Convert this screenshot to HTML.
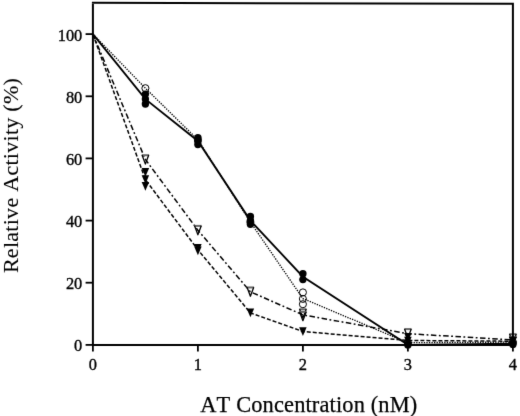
<!DOCTYPE html>
<html><head><meta charset="utf-8"><style>
html,body{margin:0;padding:0;background:#fff;width:520px;height:416px;overflow:hidden;font-family:"Liberation Serif",serif;}
svg{display:block;} text{font-kerning:none;}
</style></head><body>
<svg width="520" height="416" viewBox="0 0 520 416">
<defs><filter id="soft" filterUnits="userSpaceOnUse" x="0" y="0" width="520" height="416" color-interpolation-filters="sRGB"><feConvolveMatrix order="3" kernelMatrix="1 10 1 10 100 10 1 10 1" divisor="144" edgeMode="duplicate"/></filter></defs>
<g filter="url(#soft)">
<rect width="520" height="416" fill="#fff"/>
<polyline points="92.9,34.1 145.4,179.6 197.9,249.8 250.4,312.9 302.9,331.5 407.9,340.5 512.9,341.2" fill="none" stroke="#000" stroke-width="1.5" stroke-dasharray="4,2"/>
<polyline points="92.9,34.1 145.4,159.5 197.9,230.2 250.4,291.8 302.9,314.9 407.9,333.7 512.9,339.9" fill="none" stroke="#000" stroke-width="1.5" stroke-dasharray="5.5,2.5,1.8,2.5"/>
<polyline points="92.9,34.1 145.4,88.2 197.9,139.8 250.4,222.1 302.9,298.6 407.9,342.7 512.9,342.1" fill="none" stroke="#000" stroke-width="1.35" stroke-dasharray="1.3,1.25"/>
<polyline points="92.9,34.1 145.4,99.1 197.9,141.0 250.4,220.6 302.9,276.7 407.9,344.9 512.9,343.7" fill="none" stroke="#000" stroke-width="1.85"/>
<path d="M141.75,155.21 L149.05,155.21" stroke="#666" stroke-width="2.0"/><path d="M142.05,155.01 L145.40,164.01 L148.75,155.01" fill="none" stroke="#000" stroke-width="1.3" stroke-linejoin="round"/>
<path d="M141.65,168.01 L149.15,168.01 L145.40,176.81 Z" fill="#000"/>
<path d="M141.65,175.15 L149.15,175.15 L145.40,183.95 Z" fill="#000"/>
<path d="M141.65,181.99 L149.15,181.99 L145.40,190.79 Z" fill="#000"/>
<circle cx="145.4" cy="88.2" r="3.55" fill="none" stroke="#000" stroke-width="1.0"/>
<circle cx="145.4" cy="94.1" r="3.7" fill="#000"/>
<circle cx="145.4" cy="99.1" r="3.7" fill="#000"/>
<circle cx="145.4" cy="104.0" r="3.7" fill="#000"/>
<path d="M194.25,225.91 L201.55,225.91" stroke="#666" stroke-width="2.0"/><path d="M194.55,225.71 L197.90,234.71 L201.25,225.71" fill="none" stroke="#000" stroke-width="1.3" stroke-linejoin="round"/>
<path d="M194.15,244.00 L201.65,244.00 L197.90,252.80 Z" fill="#000"/>
<path d="M194.15,246.51 L201.65,246.51 L197.90,255.31 Z" fill="#000"/>
<circle cx="197.9" cy="139.8" r="3.55" fill="none" stroke="#000" stroke-width="1.0"/>
<circle cx="197.9" cy="137.7" r="3.7" fill="#000"/>
<circle cx="197.9" cy="141.2" r="3.7" fill="#000"/>
<circle cx="197.9" cy="144.6" r="3.7" fill="#000"/>
<path d="M246.75,287.45 L254.05,287.45" stroke="#666" stroke-width="2.0"/><path d="M247.05,287.25 L250.40,296.25 L253.75,287.25" fill="none" stroke="#000" stroke-width="1.3" stroke-linejoin="round"/>
<path d="M246.65,308.49 L254.15,308.49 L250.40,317.29 Z" fill="#000"/>
<circle cx="250.4" cy="222.1" r="3.55" fill="none" stroke="#000" stroke-width="1.0"/>
<circle cx="250.4" cy="216.5" r="3.7" fill="#000"/>
<circle cx="250.4" cy="220.6" r="3.7" fill="#000"/>
<circle cx="250.4" cy="224.3" r="3.7" fill="#000"/>
<path d="M299.25,309.30 L306.55,309.30" stroke="#666" stroke-width="2.0"/><path d="M299.55,309.10 L302.90,318.10 L306.25,309.10" fill="none" stroke="#000" stroke-width="1.3" stroke-linejoin="round"/>
<path d="M299.25,311.88 L306.55,311.88" stroke="#666" stroke-width="2.0"/><path d="M299.55,311.68 L302.90,320.68 L306.25,311.68" fill="none" stroke="#000" stroke-width="1.3" stroke-linejoin="round"/>
<path d="M299.15,327.14 L306.65,327.14 L302.90,335.94 Z" fill="#000"/>
<circle cx="302.9" cy="292.4" r="3.55" fill="none" stroke="#000" stroke-width="1.0"/>
<circle cx="302.9" cy="298.9" r="3.55" fill="none" stroke="#000" stroke-width="1.0"/>
<circle cx="302.9" cy="304.2" r="3.55" fill="none" stroke="#000" stroke-width="1.0"/>
<circle cx="302.9" cy="273.7" r="3.7" fill="#000"/>
<circle cx="302.9" cy="279.6" r="3.7" fill="#000"/>
<path d="M404.25,329.10 L411.55,329.10" stroke="#666" stroke-width="2.0"/><path d="M404.55,328.90 L407.90,337.90 L411.25,328.90" fill="none" stroke="#000" stroke-width="1.3" stroke-linejoin="round"/>
<path d="M404.15,333.04 L411.65,333.04 L407.90,341.84 Z" fill="#000"/>
<path d="M404.15,336.77 L411.65,336.77 L407.90,345.57 Z" fill="#000"/>
<circle cx="407.9" cy="342.7" r="3.55" fill="none" stroke="#000" stroke-width="1.0"/>
<circle cx="407.9" cy="344.0" r="3.7" fill="#000"/>
<circle cx="407.9" cy="344.9" r="3.7" fill="#000"/>
<path d="M509.25,334.20 L516.55,334.20" stroke="#666" stroke-width="2.0"/><path d="M509.55,334.00 L512.90,343.00 L516.25,334.00" fill="none" stroke="#000" stroke-width="1.3" stroke-linejoin="round"/>
<path d="M509.25,336.87 L516.55,336.87" stroke="#666" stroke-width="2.0"/><path d="M509.55,336.67 L512.90,345.67 L516.25,336.67" fill="none" stroke="#000" stroke-width="1.3" stroke-linejoin="round"/>
<path d="M509.15,336.77 L516.65,336.77 L512.90,345.57 Z" fill="#000"/>
<circle cx="512.9" cy="342.1" r="3.55" fill="none" stroke="#000" stroke-width="1.0"/>
<circle cx="512.9" cy="343.3" r="3.7" fill="#000"/>
<circle cx="512.9" cy="344.4" r="3.7" fill="#000"/>
<path d="M92.9,344.9 L92.9,2.9 M512.9,344.9 L512.9,3.7 M91.9,2.85 L513.9,3.7 M91.9,344.9 L513.9,344.9" fill="none" stroke="#000" stroke-width="2"/>
<line x1="85.6" y1="344.9" x2="92.9" y2="344.9" stroke="#000" stroke-width="1.8"/>
<line x1="85.6" y1="282.7" x2="92.9" y2="282.7" stroke="#000" stroke-width="1.8"/>
<line x1="85.6" y1="220.6" x2="92.9" y2="220.6" stroke="#000" stroke-width="1.8"/>
<line x1="85.6" y1="158.4" x2="92.9" y2="158.4" stroke="#000" stroke-width="1.8"/>
<line x1="85.6" y1="96.3" x2="92.9" y2="96.3" stroke="#000" stroke-width="1.8"/>
<line x1="85.6" y1="34.1" x2="92.9" y2="34.1" stroke="#000" stroke-width="1.8"/>
<line x1="92.9" y1="344.9" x2="92.9" y2="351.6" stroke="#000" stroke-width="1.8"/>
<line x1="197.9" y1="344.9" x2="197.9" y2="351.6" stroke="#000" stroke-width="1.8"/>
<line x1="302.9" y1="344.9" x2="302.9" y2="351.6" stroke="#000" stroke-width="1.8"/>
<line x1="407.9" y1="344.9" x2="407.9" y2="351.6" stroke="#000" stroke-width="1.8"/>
<line x1="512.9" y1="344.9" x2="512.9" y2="351.6" stroke="#000" stroke-width="1.8"/>
<text x="82.3" y="351.4" font-family="Liberation Serif, serif" stroke="#000" stroke-width="0.35" font-size="16.4" text-anchor="end">0</text>
<text x="82.3" y="289.2" font-family="Liberation Serif, serif" stroke="#000" stroke-width="0.35" font-size="16.4" text-anchor="end">20</text>
<text x="82.3" y="227.1" font-family="Liberation Serif, serif" stroke="#000" stroke-width="0.35" font-size="16.4" text-anchor="end">40</text>
<text x="82.3" y="164.9" font-family="Liberation Serif, serif" stroke="#000" stroke-width="0.35" font-size="16.4" text-anchor="end">60</text>
<text x="82.3" y="102.8" font-family="Liberation Serif, serif" stroke="#000" stroke-width="0.35" font-size="16.4" text-anchor="end">80</text>
<text x="82.3" y="40.6" font-family="Liberation Serif, serif" stroke="#000" stroke-width="0.35" font-size="16.4" text-anchor="end">100</text>
<text x="92.9" y="369.6" font-family="Liberation Serif, serif" stroke="#000" stroke-width="0.35" font-size="16.4" text-anchor="middle">0</text>
<text x="197.9" y="369.6" font-family="Liberation Serif, serif" stroke="#000" stroke-width="0.35" font-size="16.4" text-anchor="middle">1</text>
<text x="302.9" y="369.6" font-family="Liberation Serif, serif" stroke="#000" stroke-width="0.35" font-size="16.4" text-anchor="middle">2</text>
<text x="407.9" y="369.6" font-family="Liberation Serif, serif" stroke="#000" stroke-width="0.35" font-size="16.4" text-anchor="middle">3</text>
<text x="512.9" y="369.6" font-family="Liberation Serif, serif" stroke="#000" stroke-width="0.35" font-size="16.4" text-anchor="middle">4</text>
<text x="200.3" y="412" font-family="Liberation Serif, serif" stroke="#000" stroke-width="0.25" font-size="22.4" letter-spacing="0.15">AT Concentration (nM)</text>
<text transform="translate(18.3,273.1) rotate(-90)" font-family="Liberation Serif, serif" stroke="#000" stroke-width="0.1" font-size="22.0" letter-spacing="0.28">Relative Activity (%)</text>
</g>
</svg>
</body></html>
